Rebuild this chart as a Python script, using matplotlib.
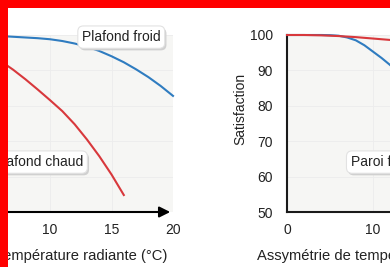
import matplotlib
matplotlib.use("Agg")
import matplotlib.pyplot as plt
import matplotlib.transforms as mtransforms
from matplotlib.patches import Rectangle

plt.rcParams['font.family'] = ['Liberation Sans', 'DejaVu Sans']
plt.rcParams['font.size'] = 10

# plafond (ceiling) data
x_plafond_froid = list(range(0, 21))
sat_plafond_froid = [100, 100, 100, 99.9, 99.9, 99.8, 99.7, 99.5, 99.3, 99.1, 98.8,
                     98.3, 97.6, 96.7, 95.5, 94.0, 92.3, 90.3, 88.1, 85.6, 82.8]
x_plafond_chaud = list(range(0, 17))
sat_plafond_chaud = [100, 99.6, 98.8, 97.7, 96.3, 94.6, 92.6, 90.2, 87.5, 84.6, 81.6,
                     78.5, 74.8, 70.5, 65.8, 60.6, 54.8]

# paroi (wall) data
x_paroi = list(range(0, 16))
sat_paroi_froide = [100, 100, 100, 100, 100, 99.95, 99.8, 99.3, 98.5, 97.1, 95.3,
                    93.5, 91.5, 89.2, 86.6, 83.8]
sat_paroi_chaude = [100, 100, 100, 99.95, 99.9, 99.8, 99.7, 99.55, 99.4, 99.2, 99.0,
                    98.8, 98.6, 98.35, 98.1, 97.8]

xticks_plafond = [0, 5, 10, 15, 20]
xticks_paroi = [0, 10, 20, 30]
yticks = [50, 60, 70, 80, 90, 100]

blue = '#2f7cc0'
red = '#d8383c'
bg = '#f6f6f4'

W, H = 390, 267
fig = plt.figure(figsize=(3.9, 2.67), dpi=100)
fig.patch.set_facecolor('white')

def box(px_left, px_top, px_right, px_bottom):
    return [px_left / W, 1 - px_bottom / H, (px_right - px_left) / W, (px_bottom - px_top) / H]

ax1 = fig.add_axes(box(-73, 35, 173, 212))
ax2 = fig.add_axes(box(287, 35, 545, 212))

def label(ax, x, y, s, ha):
    sh = mtransforms.offset_copy(ax.transData, fig=fig, x=1.2, y=-1.5, units='points')
    ax.text(x, y, s, ha=ha, va='center', color='none', transform=sh, fontsize=10,
            bbox=dict(boxstyle='round,pad=0.3,rounding_size=0.4', fc='#d0d0d0', ec='none'), zorder=4)
    ax.text(x, y, s, ha=ha, va='center', color='#222222', fontsize=10,
            bbox=dict(boxstyle='round,pad=0.3,rounding_size=0.4', fc='white', ec='#e2e2e2', lw=0.8), zorder=5)

for ax in (ax1, ax2):
    ax.set_facecolor(bg)
    ax.set_ylim(50, 100)
    ax.set_yticks(yticks)
    ax.tick_params(length=0, labelsize=10, colors='#222222')
    ax.tick_params(axis='x', pad=8)
    ax.tick_params(axis='y', pad=10)
    ax.grid(True, color='#ececec', lw=0.6)
    ax.set_axisbelow(True)
    for s in ('top', 'right'):
        ax.spines[s].set_visible(False)

# left: plafond
ax1.plot(x_plafond_froid, sat_plafond_froid, color=blue, lw=1.5, clip_on=False, zorder=3)
ax1.plot(x_plafond_chaud, sat_plafond_chaud, color=red, lw=1.5, clip_on=False, zorder=3)
ax1.set_xlim(0, 20)
ax1.set_xticks(xticks_plafond)
ax1.spines['bottom'].set_visible(False)
ax1.spines['left'].set_visible(False)
ax1.annotate('', xy=(1.0, 0), xytext=(0, 0), xycoords='axes fraction',
             arrowprops=dict(arrowstyle='-|>', color='black', lw=1.5, mutation_scale=16))
label(ax1, 12.6, 99.4, 'Plafond froid', 'left')
label(ax1, 12.7, 64.1, 'Plafond chaud', 'right')

# right: paroi
ax2.plot(x_paroi, sat_paroi_froide, color=blue, lw=1.5, clip_on=False, zorder=3)
ax2.plot(x_paroi, sat_paroi_chaude, color=red, lw=1.5, clip_on=False, zorder=3)
ax2.set_xlim(0, 30)
ax2.set_xticks(xticks_paroi)
for s in ('left', 'bottom'):
    ax2.spines[s].set_color('#1a1a1a')
    ax2.spines[s].set_linewidth(1.5)
label(ax2, 7.4, 64.1, 'Paroi froide', 'left')

fig.text(240 / W, 1 - 109 / H, 'Satisfaction', rotation=90, ha='center', va='center', color='#222222')
fig.text(167 / W, 1 - 256 / H, 'Assymétrie de température radiante (°C)', ha='right', va='center',
         color='#222222', fontsize=10.6)
fig.text(257 / W, 1 - 256 / H, 'Assymétrie de température radiante (°C)', ha='left', va='center',
         color='#222222', fontsize=10.6)

# red frame of the screenshot
fig.patches.append(Rectangle((0, 1 - 8 / H), 1, 8 / H, transform=fig.transFigure, fc='#ff0000', ec='none', zorder=10))
fig.patches.append(Rectangle((0, 0), 8 / W, 1, transform=fig.transFigure, fc='#ff0000', ec='none', zorder=10))

fig.savefig('out.png', dpi=100)
